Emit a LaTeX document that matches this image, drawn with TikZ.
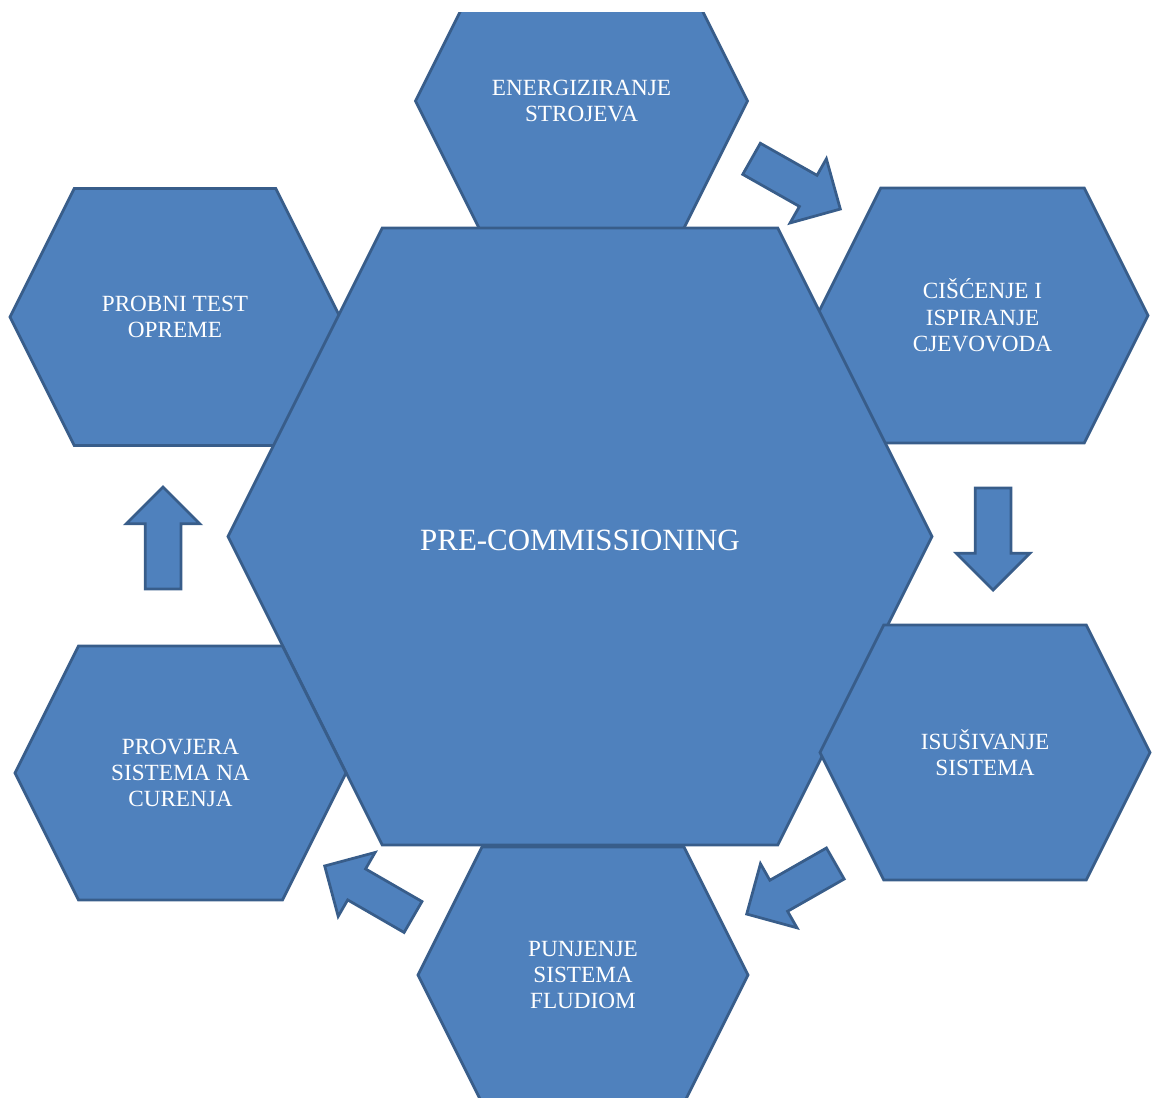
\documentclass[tikz,border=0pt]{standalone}
\usepackage{fontspec}
\setmainfont{Liberation Serif}
\usetikzlibrary{shapes.arrows}

\definecolor{hexfill}{HTML}{4F81BD}
\definecolor{hexline}{HTML}{385D8A}

\tikzset{
  hexcell/.style={draw=hexline, fill=hexfill, line width=.55mm},
  hexlabel/.style={text=white, align=center, font=\fontsize{13.2}{15}\selectfont},
  mainlabel/.style={text=white, font=\fontsize{17.6}{20}\selectfont},
  flowarrow/.style={single arrow, draw=hexline, fill=hexfill, line width=.55mm,
    single arrow tip angle=90, single arrow head extend=3.8mm,
    inner sep=3.3mm, minimum height=20.4mm, anchor=tip}
}

% name, x, y, half width, half height, text
\newcommand{\drawhex}[6]{%
  \draw[hexcell] (#2-#4,#3) -- (#2-#4+#5/2,#3-#5) -- (#2+#4-#5/2,#3-#5)
    -- (#2+#4,#3) -- (#2+#4-#5/2,#3+#5) -- (#2-#4+#5/2,#3+#5) -- cycle;
  \node[hexlabel] (#1) at (#2,#3) {#6};
}

\begin{document}
\begin{tikzpicture}[x=0.2mm, y=-0.2mm]
  \useasboundingbox (0,0) rectangle (1155,1097);
  \clip (0,13) rectangle (1155,1097);

  % outer ring, behind the centre
  \drawhex{energ}{581.5}{101}{166}{128}{ENERGIZIRANJE\\STROJEVA}
  \drawhex{punj}{583}{975}{165}{128}{PUNJENJE\\SISTEMA\\FLUDIOM}
  \drawhex{probni}{175}{317}{165}{128.5}{PROBNI TEST\\OPREME}
  \drawhex{cisc}{982.5}{315.5}{165.5}{127.5}{CIŠĆENJE I\\ISPIRANJE\\CJEVOVODA}

  % centre
  \drawhex{pre}{580}{536.5}{352}{308.5}{}
  \node[mainlabel] (prelabel) at (580,540) {PRE-COMMISSIONING};

  % outer ring, in front of the centre
  \drawhex{isus}{985}{752.5}{165}{127.5}{ISUŠIVANJE\\SISTEMA}
  \drawhex{provj}{180.5}{773}{165.5}{127}{PROVJERA\\SISTEMA NA\\CURENJA}

  % arrows
  \node[flowarrow, rotate=-29.5] (a1) at (842,210) {};
  \node[flowarrow, rotate=-90] (a2) at (993,592) {};
  \node[flowarrow, rotate=209.7] (a3) at (745,915) {};
  \node[flowarrow, rotate=150] (a4) at (323,865) {};
  \node[flowarrow, rotate=90] (a5) at (163,485) {};
\end{tikzpicture}
\end{document}
